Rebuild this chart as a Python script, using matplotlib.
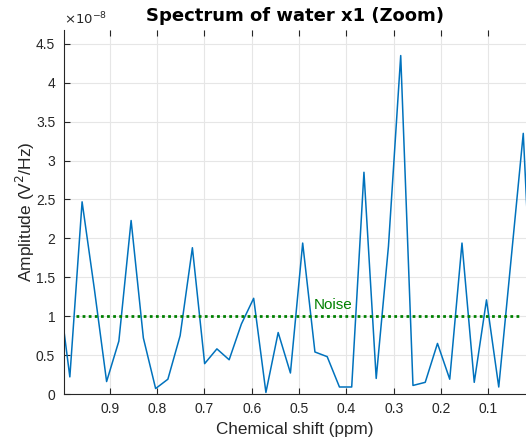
import numpy as np
import matplotlib
matplotlib.use('Agg')
import matplotlib.pyplot as plt

# chemical shift (ppm) and amplitude (x1e-8 V^2/Hz)
shift_ppm = [1.0105, 0.9846, 0.9587, 0.9328, 0.9069, 0.8810, 0.8551, 0.8292,
             0.8033, 0.7774, 0.7515, 0.7256, 0.6997, 0.6738, 0.6479, 0.6220,
             0.5961, 0.5702, 0.5443, 0.5184, 0.4925, 0.4666, 0.4407, 0.4148,
             0.3889, 0.3630, 0.3371, 0.3112, 0.2853, 0.2594, 0.2335, 0.2076,
             0.1817, 0.1558, 0.1299, 0.1040, 0.0781, 0.0522, 0.0263, 0.0004]
amplitude = [1.45, 0.22, 2.47, 1.35, 0.16, 0.68, 2.23, 0.72,
             0.07, 0.19, 0.75, 1.88, 0.39, 0.58, 0.44, 0.90,
             1.23, 0.02, 0.79, 0.27, 1.94, 0.54, 0.48, 0.09,
             0.09, 2.85, 0.20, 1.90, 4.35, 0.11, 0.15, 0.65,
             0.19, 1.94, 0.15, 1.21, 0.09, 1.72, 3.35, 0.05]
noise_level = 1.0
noise_span = [0.972, 0.030]
x_ticks = [0.1, 0.2, 0.3, 0.4, 0.5, 0.6, 0.7, 0.8, 0.9]
y_ticks = [0, 0.5, 1, 1.5, 2, 2.5, 3, 3.5, 4, 4.5]

plt.rcParams['font.family'] = ['Liberation Sans', 'DejaVu Sans']
txt = '#262626'

fig = plt.figure(figsize=(5.26, 4.46), dpi=100)
ax = fig.add_axes([63.5/526, 52/446, 463.5/526, 364.5/446])

ax.plot(shift_ppm, np.array(amplitude)*1e-8, color='#0072BD', lw=1.1)
ax.plot(noise_span, [noise_level*1e-8]*2, color='#008000', lw=2, ls=(0, (1, 1.2)))
ax.text(0.470, noise_level*1e-8 + 0.05e-8, 'Noise', color='#008000', fontsize=11,
        ha='left', va='bottom')

ax.set_xlim(0.998, 0.0184)
ax.set_ylim(0, 4.685e-8)
ax.set_xticks(x_ticks)
ax.set_xticklabels([f'{t:g}' for t in x_ticks])
ax.set_yticks(np.array(y_ticks)*1e-8)
ax.set_yticklabels([f'{t:g}' for t in y_ticks])
ax.text(0, 1.005, r'$\times10^{-8}$', transform=ax.transAxes, fontsize=9.5,
        color=txt, ha='left', va='bottom')

ax.grid(True, color='#e6e6e6', lw=0.8)
ax.set_axisbelow(True)
ax.tick_params(direction='in', length=4, colors=txt, labelsize=10, top=True,
               labeltop=False, pad=6)
for s in ['left', 'bottom', 'top']:
    ax.spines[s].set_color(txt)
    ax.spines[s].set_linewidth(0.8)
ax.spines['right'].set_visible(False)
ax.spines['top'].set_visible(False)

ax.set_xlabel('Chemical shift (ppm)', fontsize=12.3, color=txt, labelpad=4)
ax.set_ylabel('Amplitude (V$^2$/Hz)', fontsize=12.5, color=txt, labelpad=-1)
ax.set_title('Spectrum of water x1 (Zoom)', fontsize=13, fontweight='bold',
             family='DejaVu Sans', pad=6)

fig.savefig('out.png', dpi=100)
